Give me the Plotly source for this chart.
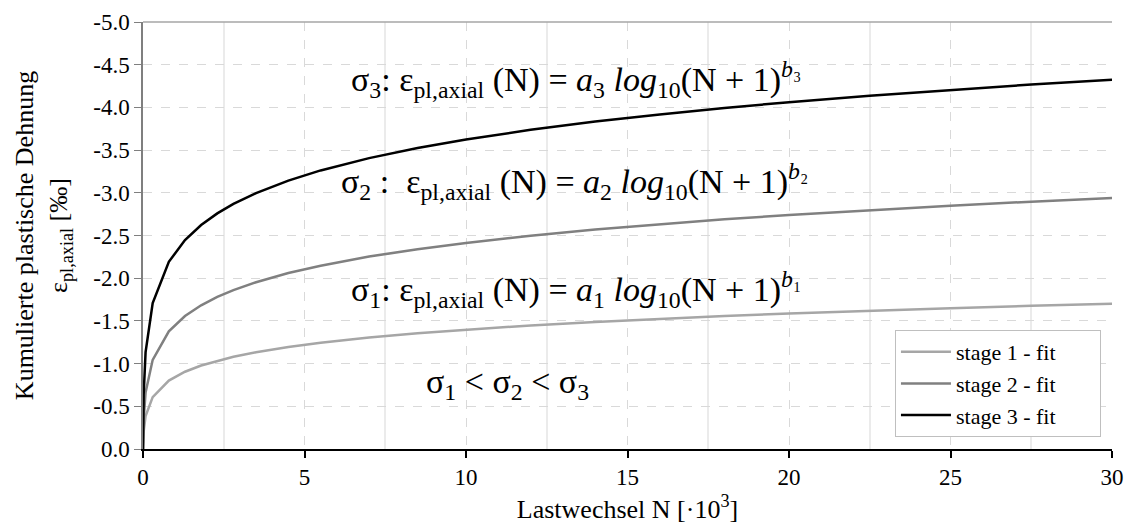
import plotly.graph_objects as go

# Load cycles N [x 10^3]
N = [0, 0.005, 0.02, 0.08, 0.3, 0.8, 1.3, 1.8, 2.3, 2.8, 3.5, 4.5, 5.5, 7, 8.5,
     10, 12, 14, 16, 18, 20, 22.5, 25, 27.5, 30]

# Cumulative plastic axial strain [per mille]
stage1 = [0, -0.081, -0.204, -0.386, -0.608, -0.801, -0.905, -0.977, -1.033, -1.080,
          -1.133, -1.194, -1.244, -1.306, -1.356, -1.398, -1.447, -1.488, -1.525,
          -1.557, -1.586, -1.619, -1.649, -1.676, -1.701]
stage2 = [0, -0.138, -0.348, -0.661, -1.044, -1.378, -1.557, -1.683, -1.781, -1.861,
          -1.953, -2.060, -2.146, -2.253, -2.339, -2.413, -2.498, -2.570, -2.633,
          -2.690, -2.740, -2.797, -2.849, -2.896, -2.940]
stage3 = [0, -0.277, -0.637, -1.134, -1.709, -2.192, -2.446, -2.623, -2.759, -2.870,
          -2.997, -3.143, -3.262, -3.406, -3.524, -3.624, -3.737, -3.834, -3.918,
          -3.993, -4.061, -4.137, -4.206, -4.268, -4.325]

series_names = ["stage 1 - fit", "stage 2 - fit", "stage 3 - fit"]
series_colors = ["#a6a6a6", "#808080", "#000000"]

y_ticks = [0.0, -0.5, -1.0, -1.5, -2.0, -2.5, -3.0, -3.5, -4.0, -4.5, -5.0]
x_ticks = [0, 5, 10, 15, 20, 25, 30]

FONT = "Liberation Serif"
LEGEND_PAD = "\u00a0" * 7  # right-hand padding inside the legend box

fig = go.Figure()
for name, vals, col in zip(series_names, [stage1, stage2, stage3], series_colors):
    fig.add_trace(go.Scatter(x=N, y=vals, mode="lines", name=name + LEGEND_PAD,
                             hovertemplate=name + ": %{y}<extra></extra>",
                             line=dict(color=col, width=2.5)))

ann_font = dict(family=FONT, size=34, color="#000000")
annotations = [
    dict(x=13.4, y=-4.33,
         text="σ<sub>3</sub>: ε<sub>pl,axial</sub> (N) = <i>a</i><sub>3</sub> <i>log</i><sub>10</sub>(N + 1)<sup><i>b</i>₃</sup>"),
    dict(x=13.35, y=-3.13,
         text="σ<sub>2</sub> :  ε<sub>pl,axial</sub> (N) = <i>a</i><sub>2</sub> <i>log</i><sub>10</sub>(N + 1)<sup><i>b</i>₂</sup>"),
    dict(x=13.4, y=-1.87,
         text="σ<sub>1</sub>: ε<sub>pl,axial</sub> (N) = <i>a</i><sub>1</sub> <i>log</i><sub>10</sub>(N + 1)<sup><i>b</i>₁</sup>"),
    dict(x=11.3, y=-0.76,
         text="σ<sub>1</sub> &lt; σ<sub>2</sub> &lt; σ<sub>3</sub>"),
]
for a in annotations:
    fig.add_annotation(x=a["x"], y=a["y"], text=a["text"], showarrow=False,
                       font=ann_font, xanchor="center", yanchor="middle")

fig.update_layout(
    width=1127, height=524,
    margin=dict(l=143, r=15, t=22, b=75),
    paper_bgcolor="white", plot_bgcolor="white",
    font=dict(family=FONT, size=23, color="#000000"),
    showlegend=True,
    legend=dict(x=0.9886, y=0.028, xanchor="right", yanchor="bottom",
                bgcolor="white", bordercolor="#bfbfbf", borderwidth=1,
                font=dict(family=FONT, size=22), itemwidth=50,
                tracegroupgap=0),
    xaxis=dict(range=[0, 30], tickmode="array", tickvals=x_ticks,
               ticktext=[str(v) for v in x_ticks],
               automargin=False,
               showline=True, linecolor="#000000", linewidth=1.5,
               ticks="outside", ticklen=7, tickcolor="#000000", tickwidth=1.5,
               showgrid=True, gridcolor="#d9d9d9", griddash="dash", gridwidth=1,
               minor=dict(tickmode="array", tickvals=[2.5, 7.5, 12.5, 17.5, 22.5, 27.5],
                          showgrid=True, gridcolor="#ebebeb", griddash="solid", gridwidth=1.5,
                          ticks=""),
               zeroline=False,
               tickfont=dict(family=FONT, size=23),
               title=dict(text="Lastwechsel N [·10<sup>3</sup>]",
                          font=dict(family=FONT, size=26), standoff=14)),
    yaxis=dict(range=[0, -5], tickmode="array", tickvals=y_ticks,
               ticktext=[f"{v:.1f}" if v != 0 else "0.0" for v in y_ticks],
               automargin=False,
               showline=True, linecolor="#7f7f7f", linewidth=1.5,
               ticks="outside", ticklen=7, tickcolor="#7f7f7f", tickwidth=1.2,
               showgrid=True, gridcolor="#d9d9d9", griddash="dash", gridwidth=1,
               zeroline=False,
               tickfont=dict(family=FONT, size=23),
               title=dict(text="Kumulierte plastische Dehnung<br>ε<sub>pl,axial</sub> [‰]",
                          font=dict(family=FONT, size=26), standoff=18)),
    shapes=[dict(type="line", xref="paper", yref="paper", x0=0, x1=1, y0=1, y1=1,
                 line=dict(color="#a6a6a6", width=1.5))],
)

fig.write_html("out.html")
